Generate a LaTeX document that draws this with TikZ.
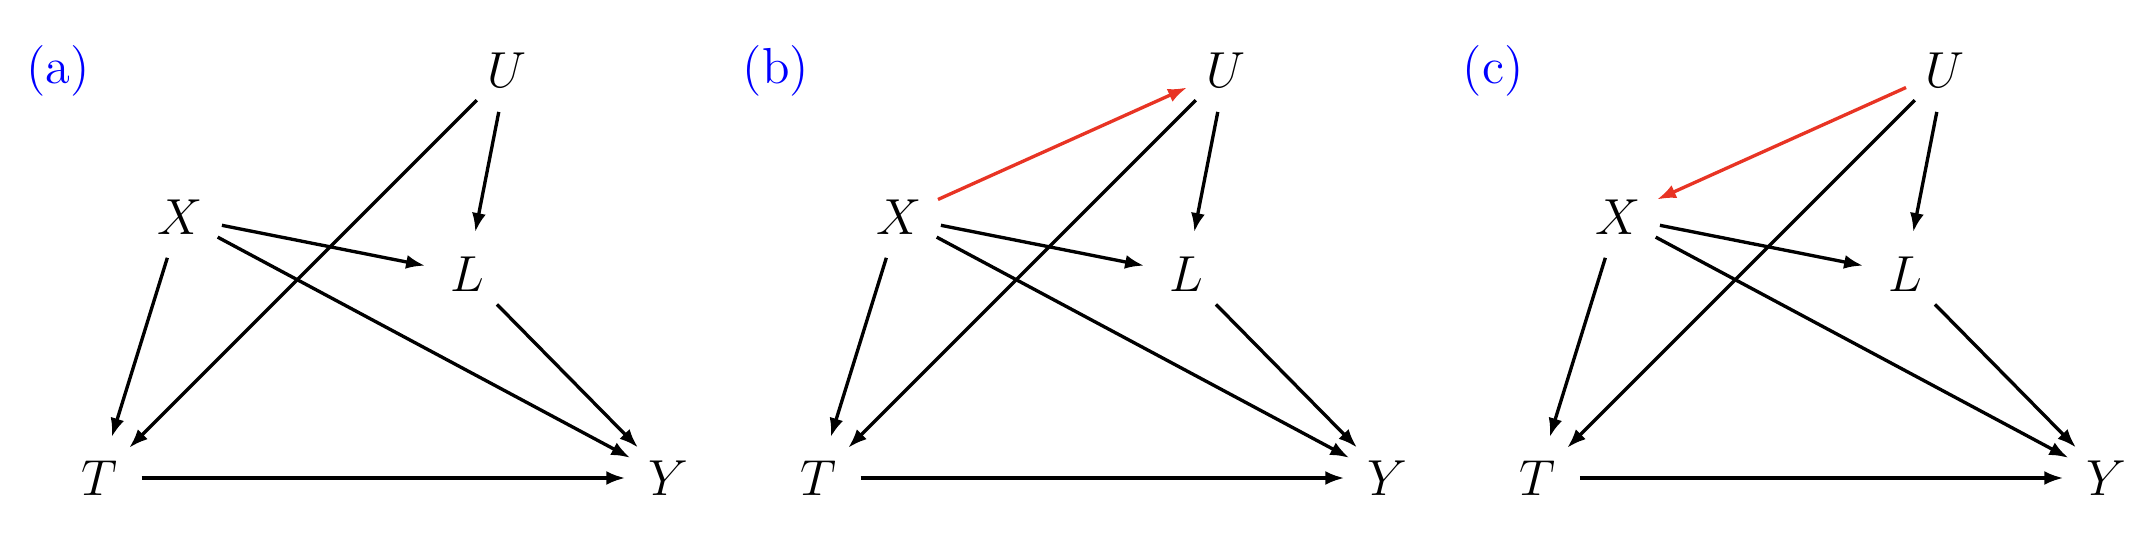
\documentclass[tikz,border=0pt]{standalone}
\usetikzlibrary{arrows.meta}
\definecolor{arrred}{RGB}{232,52,36}
\tikzset{
  var/.style={circle,minimum size=0.84cm,inner sep=0pt,font=\fontsize{14.4}{17}\selectfont},
  lab/.style={text=blue,inner sep=0pt,font=\fontsize{14.4}{17}\selectfont},
  edge/.style={line width=0.95pt,-{Latex[length=1.9mm,width=1.4mm]}},
  rededge/.style={edge,draw=arrred}
}
\begin{document}
\begin{tikzpicture}[x=0.01cm,y=-0.01cm]
\useasboundingbox (0,0) rectangle (2134,540);
\foreach \p/\lx in {a/58,b/776,c/1493}{
  \node[lab] (lab\p) at (\lx,71) {(\p)};
}
\foreach \p/\dx in {a/0,b/719,c/1438}{
  \node[var] (U\p) at (507+\dx,70) {$U$};
  \node[var] (X\p) at (180+\dx,217) {$X$};
  \node[var] (L\p) at (467+\dx,274) {$L$};
  \node[var] (T\p) at (99+\dx,478) {$T$};
  \node[var] (Y\p) at (668+\dx,478) {$Y$};
  \draw[edge] (U\p) -- (T\p);
  \draw[edge] (U\p) -- (L\p);
  \draw[edge] (X\p) -- (L\p);
  \draw[edge] (X\p) -- (Y\p);
  \draw[edge] (X\p) -- (T\p);
  \draw[edge] (L\p) -- (Y\p);
  \draw[edge] (T\p) -- (Y\p);
}
\draw[rededge] (Xb) -- (Ub);
\draw[rededge] (Uc) -- (Xc);
\end{tikzpicture}
\end{document}
